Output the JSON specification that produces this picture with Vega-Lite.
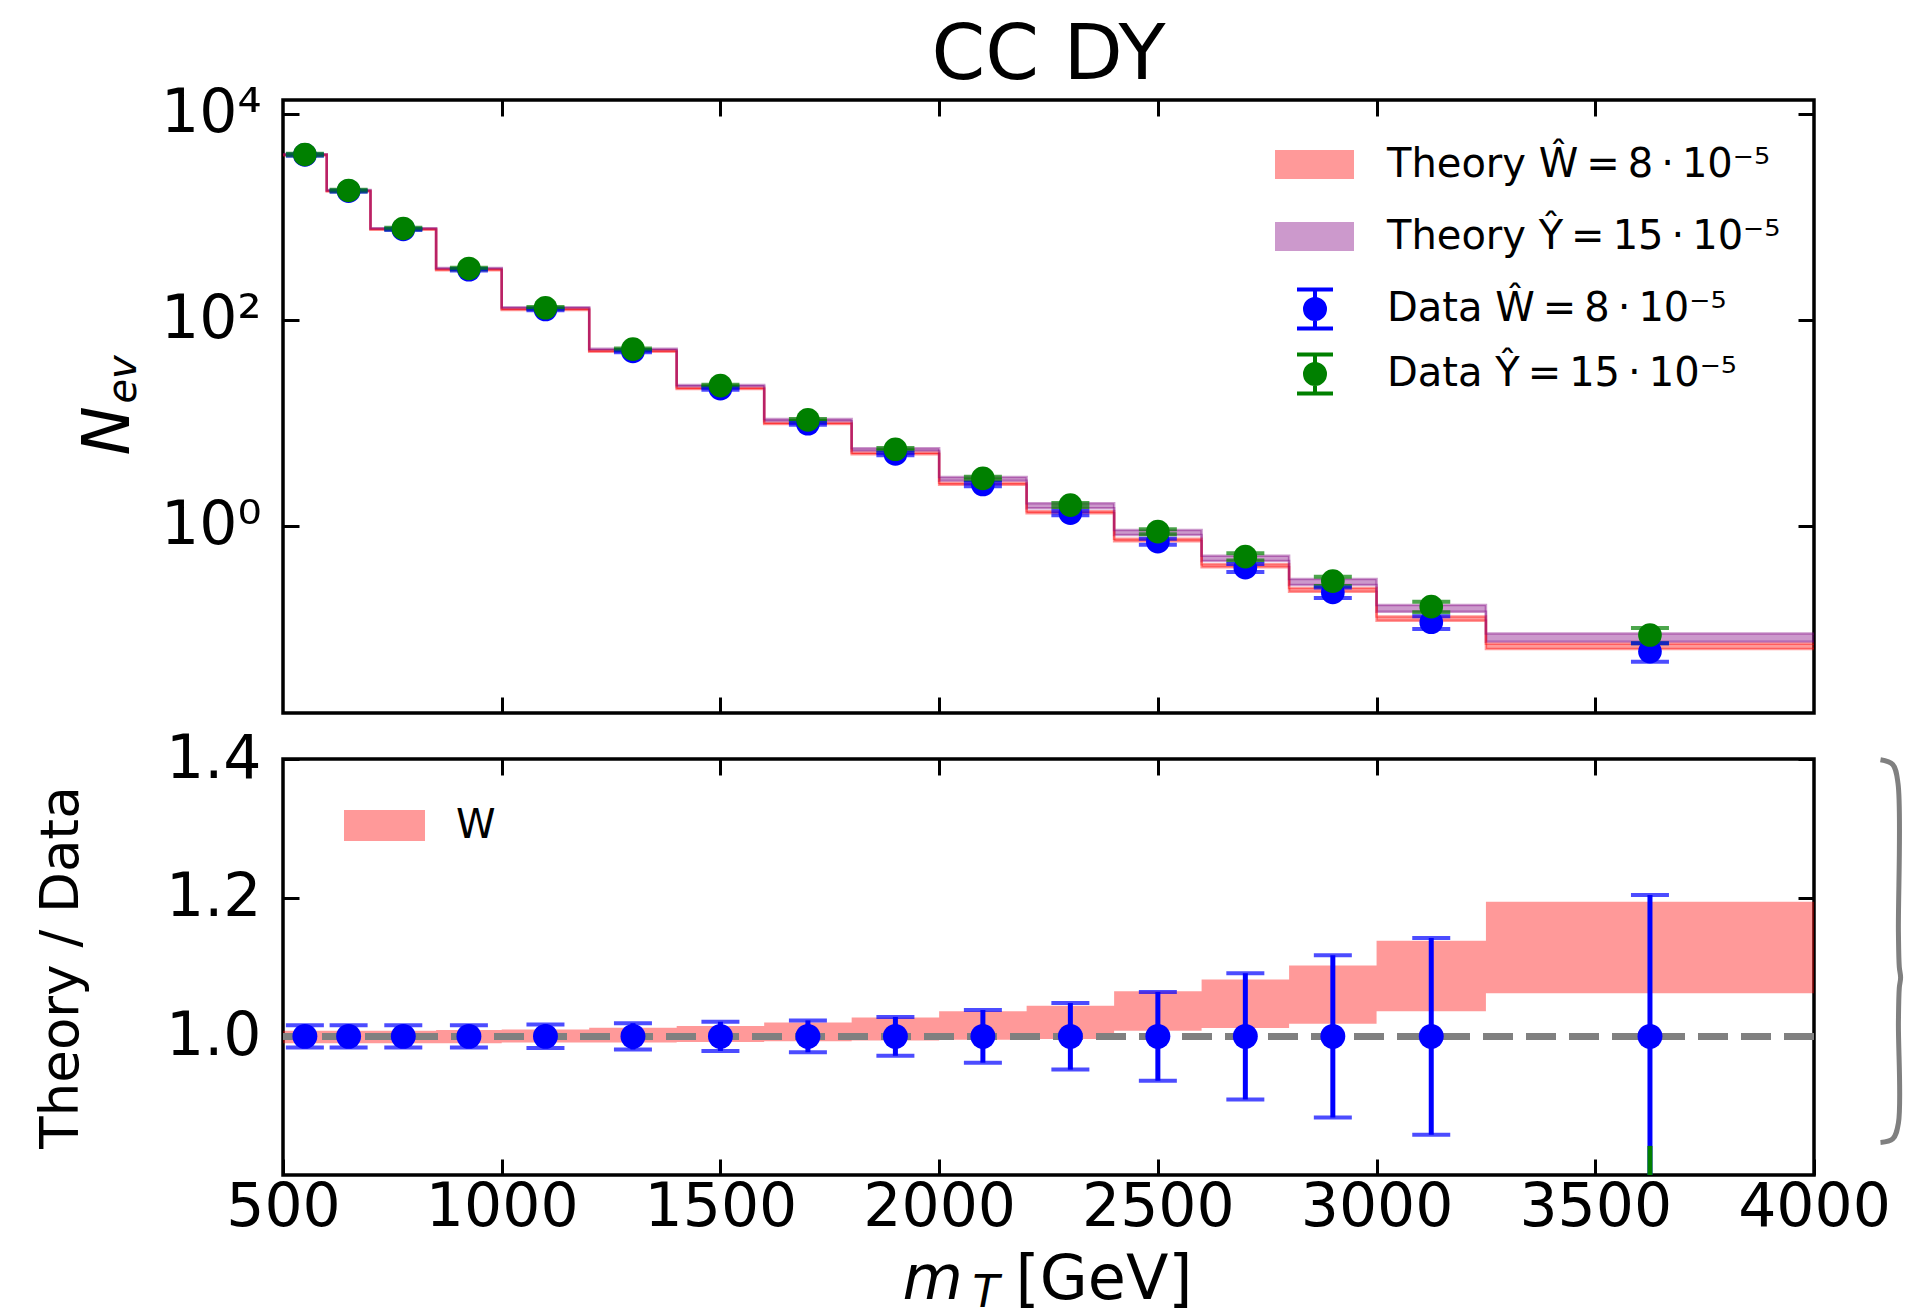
{
  "$schema": "https://vega.github.io/schema/vega-lite/v6.json",
  "background": "white",
  "padding": {"left": 33, "top": 14, "right": 2, "bottom": 0},
  "config": {
    "font": "DejaVu Sans",
    "view": {"stroke": "black", "strokeWidth": 3.5},
    "axis": {
      "domain": false, "grid": false,
      "tickColor": "black", "tickWidth": 3, "tickSize": -16,
      "labelColor": "black", "labelFont": "DejaVu Sans", "labelFontSize": 60,
      "labelFlush": false, "labelOverlap": false,
      "titleColor": "black", "titleFont": "DejaVu Sans", "titleFontWeight": "normal"
    },
    "legend": {"labelFont": "DejaVu Sans", "labelFontSize": 40, "labelColor": "black", "padding": 0, "labelLimit": 0, "title": null}
  },
  "datasets": {
    "theory": [
      {"edge": 500, "model": "Theory Ŵ = 8 · 10⁻⁵", "lo": 3920, "hi": 3992},
      {"edge": 600, "model": "Theory Ŵ = 8 · 10⁻⁵", "lo": 1746, "hi": 1778},
      {"edge": 700, "model": "Theory Ŵ = 8 · 10⁻⁵", "lo": 742.5, "hi": 756},
      {"edge": 850, "model": "Theory Ŵ = 8 · 10⁻⁵", "lo": 301, "hi": 306.7},
      {"edge": 1000, "model": "Theory Ŵ = 8 · 10⁻⁵", "lo": 123.9, "hi": 126.4},
      {"edge": 1200, "model": "Theory Ŵ = 8 · 10⁻⁵", "lo": 48.56, "hi": 49.64},
      {"edge": 1400, "model": "Theory Ŵ = 8 · 10⁻⁵", "lo": 21.13, "hi": 21.62},
      {"edge": 1600, "model": "Theory Ŵ = 8 · 10⁻⁵", "lo": 9.652, "hi": 9.914},
      {"edge": 1800, "model": "Theory Ŵ = 8 · 10⁻⁵", "lo": 4.92, "hi": 5.084},
      {"edge": 2000, "model": "Theory Ŵ = 8 · 10⁻⁵", "lo": 2.488, "hi": 2.59},
      {"edge": 2200, "model": "Theory Ŵ = 8 · 10⁻⁵", "lo": 1.315, "hi": 1.378},
      {"edge": 2400, "model": "Theory Ŵ = 8 · 10⁻⁵", "lo": 0.7026, "hi": 0.7423},
      {"edge": 2600, "model": "Theory Ŵ = 8 · 10⁻⁵", "lo": 0.3937, "hi": 0.4209},
      {"edge": 2800, "model": "Theory Ŵ = 8 · 10⁻⁵", "lo": 0.228, "hi": 0.2468},
      {"edge": 3000, "model": "Theory Ŵ = 8 · 10⁻⁵", "lo": 0.1191, "hi": 0.1309},
      {"edge": 3250, "model": "Theory Ŵ = 8 · 10⁻⁵", "lo": 0.0634, "hi": 0.0713},
      {"edge": 4000, "model": "Theory Ŵ = 8 · 10⁻⁵", "lo": 0.0634, "hi": 0.0713},
      {"edge": 500, "model": "Theory Ŷ = 15 · 10⁻⁵", "lo": 3968, "hi": 4032},
      {"edge": 600, "model": "Theory Ŷ = 15 · 10⁻⁵", "lo": 1776, "hi": 1804},
      {"edge": 700, "model": "Theory Ŷ = 15 · 10⁻⁵", "lo": 758.9, "hi": 771.1},
      {"edge": 850, "model": "Theory Ŷ = 15 · 10⁻⁵", "lo": 310.5, "hi": 315.5},
      {"edge": 1000, "model": "Theory Ŷ = 15 · 10⁻⁵", "lo": 128.7, "hi": 131.3},
      {"edge": 1200, "model": "Theory Ŷ = 15 · 10⁻⁵", "lo": 50.73, "hi": 52.12},
      {"edge": 1400, "model": "Theory Ŷ = 15 · 10⁻⁵", "lo": 22.34, "hi": 23.14},
      {"edge": 1600, "model": "Theory Ŷ = 15 · 10⁻⁵", "lo": 10.28, "hi": 10.81},
      {"edge": 1800, "model": "Theory Ŷ = 15 · 10⁻⁵", "lo": 5.28, "hi": 5.64},
      {"edge": 2000, "model": "Theory Ŷ = 15 · 10⁻⁵", "lo": 2.727, "hi": 2.956},
      {"edge": 2200, "model": "Theory Ŷ = 15 · 10⁻⁵", "lo": 1.469, "hi": 1.643},
      {"edge": 2400, "model": "Theory Ŷ = 15 · 10⁻⁵", "lo": 0.809, "hi": 0.904},
      {"edge": 2600, "model": "Theory Ŷ = 15 · 10⁻⁵", "lo": 0.453, "hi": 0.51},
      {"edge": 2800, "model": "Theory Ŷ = 15 · 10⁻⁵", "lo": 0.264, "hi": 0.302},
      {"edge": 3000, "model": "Theory Ŷ = 15 · 10⁻⁵", "lo": 0.1456, "hi": 0.169},
      {"edge": 3250, "model": "Theory Ŷ = 15 · 10⁻⁵", "lo": 0.0745, "hi": 0.0897},
      {"edge": 4000, "model": "Theory Ŷ = 15 · 10⁻⁵", "lo": 0.0745, "hi": 0.0897}
    ],
    "counts": [
      {"mT": 550, "series": "Data Ŵ = 8 · 10⁻⁵", "n": 3960, "nlo": 3897, "nhi": 4023},
      {"mT": 650, "series": "Data Ŵ = 8 · 10⁻⁵", "n": 1764, "nlo": 1736, "nhi": 1792},
      {"mT": 775, "series": "Data Ŵ = 8 · 10⁻⁵", "n": 750, "nlo": 738, "nhi": 762},
      {"mT": 925, "series": "Data Ŵ = 8 · 10⁻⁵", "n": 304, "nlo": 299.1, "nhi": 308.9},
      {"mT": 1100, "series": "Data Ŵ = 8 · 10⁻⁵", "n": 125, "nlo": 122.9, "nhi": 127.1},
      {"mT": 1300, "series": "Data Ŵ = 8 · 10⁻⁵", "n": 49.0, "nlo": 48.07, "nhi": 49.93},
      {"mT": 1500, "series": "Data Ŵ = 8 · 10⁻⁵", "n": 21.3, "nlo": 20.85, "nhi": 21.75},
      {"mT": 1700, "series": "Data Ŵ = 8 · 10⁻⁵", "n": 9.72, "nlo": 9.5, "nhi": 9.94},
      {"mT": 1900, "series": "Data Ŵ = 8 · 10⁻⁵", "n": 4.95, "nlo": 4.81, "nhi": 5.09},
      {"mT": 2100, "series": "Data Ŵ = 8 · 10⁻⁵", "n": 2.5, "nlo": 2.405, "nhi": 2.595},
      {"mT": 2300, "series": "Data Ŵ = 8 · 10⁻⁵", "n": 1.32, "nlo": 1.257, "nhi": 1.383},
      {"mT": 2500, "series": "Data Ŵ = 8 · 10⁻⁵", "n": 0.697, "nlo": 0.652, "nhi": 0.742},
      {"mT": 2700, "series": "Data Ŵ = 8 · 10⁻⁵", "n": 0.389, "nlo": 0.354, "nhi": 0.424},
      {"mT": 2900, "series": "Data Ŵ = 8 · 10⁻⁵", "n": 0.224, "nlo": 0.198, "nhi": 0.25},
      {"mT": 3125, "series": "Data Ŵ = 8 · 10⁻⁵", "n": 0.115, "nlo": 0.0987, "nhi": 0.1313},
      {"mT": 3625, "series": "Data Ŵ = 8 · 10⁻⁵", "n": 0.0597, "nlo": 0.0475, "nhi": 0.0719},
      {"mT": 550, "series": "Data Ŷ = 15 · 10⁻⁵", "n": 4000, "nlo": 3936, "nhi": 4064},
      {"mT": 650, "series": "Data Ŷ = 15 · 10⁻⁵", "n": 1790, "nlo": 1761, "nhi": 1819},
      {"mT": 775, "series": "Data Ŷ = 15 · 10⁻⁵", "n": 765, "nlo": 752.8, "nhi": 777.2},
      {"mT": 925, "series": "Data Ŷ = 15 · 10⁻⁵", "n": 313, "nlo": 308, "nhi": 318},
      {"mT": 1100, "series": "Data Ŷ = 15 · 10⁻⁵", "n": 130, "nlo": 127.8, "nhi": 132.2},
      {"mT": 1300, "series": "Data Ŷ = 15 · 10⁻⁵", "n": 51.5, "nlo": 50.57, "nhi": 52.43},
      {"mT": 1500, "series": "Data Ŷ = 15 · 10⁻⁵", "n": 22.8, "nlo": 22.34, "nhi": 23.26},
      {"mT": 1700, "series": "Data Ŷ = 15 · 10⁻⁵", "n": 10.6, "nlo": 10.37, "nhi": 10.83},
      {"mT": 1900, "series": "Data Ŷ = 15 · 10⁻⁵", "n": 5.5, "nlo": 5.35, "nhi": 5.65},
      {"mT": 2100, "series": "Data Ŷ = 15 · 10⁻⁵", "n": 2.87, "nlo": 2.77, "nhi": 2.97},
      {"mT": 2300, "series": "Data Ŷ = 15 · 10⁻⁵", "n": 1.58, "nlo": 1.51, "nhi": 1.65},
      {"mT": 2500, "series": "Data Ŷ = 15 · 10⁻⁵", "n": 0.871, "nlo": 0.821, "nhi": 0.921},
      {"mT": 2700, "series": "Data Ŷ = 15 · 10⁻⁵", "n": 0.498, "nlo": 0.458, "nhi": 0.538},
      {"mT": 2900, "series": "Data Ŷ = 15 · 10⁻⁵", "n": 0.289, "nlo": 0.259, "nhi": 0.319},
      {"mT": 3125, "series": "Data Ŷ = 15 · 10⁻⁵", "n": 0.163, "nlo": 0.1436, "nhi": 0.1824},
      {"mT": 3625, "series": "Data Ŷ = 15 · 10⁻⁵", "n": 0.0865, "nlo": 0.0719, "nhi": 0.1011}
    ],
    "ratioBand": [
      {"edge": 500, "band": "W", "lo": 0.99, "hi": 1.008},
      {"edge": 600, "band": "W", "lo": 0.99, "hi": 1.008},
      {"edge": 700, "band": "W", "lo": 0.99, "hi": 1.008},
      {"edge": 850, "band": "W", "lo": 0.99, "hi": 1.009},
      {"edge": 1000, "band": "W", "lo": 0.991, "hi": 1.01},
      {"edge": 1200, "band": "W", "lo": 0.991, "hi": 1.0125},
      {"edge": 1400, "band": "W", "lo": 0.992, "hi": 1.015},
      {"edge": 1600, "band": "W", "lo": 0.993, "hi": 1.02},
      {"edge": 1800, "band": "W", "lo": 0.994, "hi": 1.027},
      {"edge": 2000, "band": "W", "lo": 0.995, "hi": 1.036},
      {"edge": 2200, "band": "W", "lo": 0.996, "hi": 1.044},
      {"edge": 2400, "band": "W", "lo": 1.008, "hi": 1.065},
      {"edge": 2600, "band": "W", "lo": 1.012, "hi": 1.082},
      {"edge": 2800, "band": "W", "lo": 1.018, "hi": 1.102},
      {"edge": 3000, "band": "W", "lo": 1.036, "hi": 1.138},
      {"edge": 3250, "band": "W", "lo": 1.062, "hi": 1.194},
      {"edge": 4000, "band": "W", "lo": 1.062, "hi": 1.194}
    ],
    "ratio": [
      {"mT": 550, "r": 1, "rlo": 0.984, "rhi": 1.016},
      {"mT": 650, "r": 1, "rlo": 0.984, "rhi": 1.016},
      {"mT": 775, "r": 1, "rlo": 0.984, "rhi": 1.016},
      {"mT": 925, "r": 1, "rlo": 0.984, "rhi": 1.016},
      {"mT": 1100, "r": 1, "rlo": 0.983, "rhi": 1.017},
      {"mT": 1300, "r": 1, "rlo": 0.981, "rhi": 1.019},
      {"mT": 1500, "r": 1, "rlo": 0.979, "rhi": 1.021},
      {"mT": 1700, "r": 1, "rlo": 0.977, "rhi": 1.023},
      {"mT": 1900, "r": 1, "rlo": 0.972, "rhi": 1.028},
      {"mT": 2100, "r": 1, "rlo": 0.962, "rhi": 1.038},
      {"mT": 2300, "r": 1, "rlo": 0.952, "rhi": 1.048},
      {"mT": 2500, "r": 1, "rlo": 0.936, "rhi": 1.064},
      {"mT": 2700, "r": 1, "rlo": 0.909, "rhi": 1.091},
      {"mT": 2900, "r": 1, "rlo": 0.883, "rhi": 1.117},
      {"mT": 3125, "r": 1, "rlo": 0.858, "rhi": 1.142},
      {"mT": 3625, "r": 1, "rlo": 0.796, "rhi": 1.204}
    ],
    "ratioY": [
      {"mT": 3625, "rlo": 0.7, "rhi": 0.842}
    ],
    "brace": [
      {"i": 0, "x": 4152, "y": 1.399},
      {"i": 1, "x": 4180, "y": 1.392},
      {"i": 2, "x": 4192, "y": 1.365},
      {"i": 3, "x": 4193, "y": 1.15},
      {"i": 4, "x": 4195, "y": 1.1},
      {"i": 5, "x": 4198, "y": 1.085},
      {"i": 6, "x": 4195, "y": 1.07},
      {"i": 7, "x": 4193, "y": 1.02},
      {"i": 8, "x": 4193, "y": 0.875},
      {"i": 9, "x": 4180, "y": 0.852},
      {"i": 10, "x": 4152, "y": 0.847}
    ]
  },
  "vconcat": [
    {
      "width": 1531,
      "height": 613,
      "title": {"text": "CC DY", "fontSize": 77, "font": "DejaVu Sans", "fontWeight": "normal", "color": "black", "frame": "group", "anchor": "middle", "offset": -11},
      "resolve": {"axis": {"x": "independent", "y": "independent"}},
      "layer": [
        {
          "data": {"name": "theory"},
          "mark": {"type": "area", "interpolate": "step-after", "opacity": 0.4, "clip": true},
          "encoding": {
            "x": {"field": "edge", "type": "quantitative",
                  "scale": {"domain": [500, 4000], "nice": false, "zero": false},
                  "axis": {"orient": "bottom", "values": [1000, 1500, 2000, 2500, 3000, 3500], "labels": false, "title": null}},
            "y": {"field": "lo", "type": "quantitative",
                  "scale": {"type": "log", "domain": [0.01513, 13527], "nice": false},
                  "axis": {"orient": "left", "values": [1, 100, 10000], "labelPadding": 38,
                           "labelExpr": "datum.value >= 5000 ? '10⁴' : datum.value >= 50 ? '10²' : '10⁰'",
                           "title": "N", "titleFontStyle": "italic", "titleFontSize": 66, "titleAngle": 270,
                           "titleAlign": "left", "titleBaseline": "alphabetic", "titleX": -155, "titleY": 355}},
            "y2": {"field": "hi"},
            "color": {"field": "model", "type": "nominal",
                      "scale": {"domain": ["Theory Ŵ = 8 · 10⁻⁵", "Theory Ŷ = 15 · 10⁻⁵"], "range": ["#ff0000", "#800080"]},
                      "legend": {"orient": "none", "legendX": 992, "legendY": 25, "symbolType": "M-1,-0.367H1V0.367H-1Z",
                                 "symbolSize": 6241, "symbolStrokeWidth": 0, "symbolOpacity": 0.4, "labelOffset": 33, "rowPadding": 12,
                                 "labelExpr": "replace(replace(datum.label, ' = ', '\u2009=\u2009'), ' · ', '\u2009·\u2009')"}}
          }
        },
        {
          "data": {"name": "theory"},
          "mark": {"type": "line", "interpolate": "step-after", "opacity": 0.4, "strokeWidth": 2.5, "clip": true},
          "encoding": {
            "x": {"field": "edge", "type": "quantitative", "axis": null},
            "y": {"field": "lo", "type": "quantitative", "axis": null},
            "color": {"field": "model", "type": "nominal"}
          }
        },
        {
          "data": {"name": "theory"},
          "mark": {"type": "line", "interpolate": "step-after", "opacity": 0.4, "strokeWidth": 2.5, "clip": true},
          "encoding": {
            "x": {"field": "edge", "type": "quantitative", "axis": null},
            "y": {"field": "hi", "type": "quantitative", "axis": null},
            "color": {"field": "model", "type": "nominal"}
          }
        },
        {
          "data": {"name": "counts"},
          "mark": {"type": "rule", "strokeWidth": 4, "clip": true},
          "encoding": {
            "x": {"field": "mT", "type": "quantitative",
                  "axis": {"orient": "top", "values": [1000, 1500, 2000, 2500, 3000, 3500], "labels": false, "title": null}},
            "y": {"field": "nlo", "type": "quantitative",
                  "axis": {"orient": "right", "values": [1, 100, 10000], "labels": false, "title": null}},
            "y2": {"field": "nhi"},
            "stroke": {"field": "series", "type": "nominal",
                       "scale": {"domain": ["Data Ŵ = 8 · 10⁻⁵", "Data Ŷ = 15 · 10⁻⁵"], "range": ["#0000ff", "#008000"]},
                       "legend": {"orient": "none", "legendX": 1010, "legendY": 187,
                                  "symbolType": "M-0.9,-0.975H0.9M0,-0.975V0.975M-0.9,0.975H0.9M-0.5,0A0.5,0.5,0,1,1,0.5,0A0.5,0.5,0,1,1,-0.5,0Z",
                                  "symbolSize": 1600, "symbolStrokeWidth": 4, "symbolOpacity": 1, "labelOffset": 50, "rowPadding": 9,
                                  "labelExpr": "replace(replace(datum.label, ' = ', '\u2009=\u2009'), ' · ', '\u2009·\u2009')",
                                  "encode": {"symbols": {"update": {"opacity": {"value": 1}}}}}}
          }
        },
        {
          "data": {"name": "counts"},
          "mark": {"type": "tick", "orient": "horizontal", "size": 38, "thickness": 4, "clip": true},
          "encoding": {
            "x": {"field": "mT", "type": "quantitative", "axis": null},
            "y": {"field": "nlo", "type": "quantitative",
                  "axis": {"orient": "left", "ticks": false, "labels": false,
                           "title": "ev", "titleFontStyle": "italic", "titleFontSize": 40, "titleAngle": 270,
                           "titleAlign": "left", "titleBaseline": "alphabetic", "titleX": -148, "titleY": 303}},
            "fill": {"field": "series", "type": "nominal",
                     "scale": {"domain": ["Data Ŵ = 8 · 10⁻⁵", "Data Ŷ = 15 · 10⁻⁵"], "range": ["#0000ff", "#008000"]},
                     "legend": {"orient": "none", "legendX": 1010, "legendY": 187,
                                "symbolType": "M-0.9,-0.975H0.9M0,-0.975V0.975M-0.9,0.975H0.9M-0.5,0A0.5,0.5,0,1,1,0.5,0A0.5,0.5,0,1,1,-0.5,0Z",
                                "symbolSize": 1600, "symbolStrokeWidth": 4, "symbolOpacity": 1, "labelOffset": 50, "rowPadding": 9,
                                "labelExpr": "replace(replace(datum.label, ' = ', '\u2009=\u2009'), ' · ', '\u2009·\u2009')",
                                "encode": {"symbols": {"update": {"opacity": {"value": 1}}}}}}
          }
        },
        {
          "data": {"name": "counts"},
          "mark": {"type": "tick", "orient": "horizontal", "size": 38, "thickness": 4, "clip": true},
          "encoding": {
            "x": {"field": "mT", "type": "quantitative", "axis": null},
            "y": {"field": "nhi", "type": "quantitative", "axis": null},
            "fill": {"field": "series", "type": "nominal"}
          }
        },
        {
          "data": {"name": "counts"},
          "mark": {"type": "point", "shape": "circle", "filled": true, "size": 560, "opacity": 1, "clip": true},
          "encoding": {
            "x": {"field": "mT", "type": "quantitative", "axis": null},
            "y": {"field": "n", "type": "quantitative", "axis": null},
            "fill": {"field": "series", "type": "nominal"}
          }
        }
      ]
    },
    {
      "width": 1531,
      "height": 416,
      "resolve": {"axis": {"x": "independent", "y": "independent"}},
      "layer": [
        {
          "data": {"name": "ratioBand"},
          "mark": {"type": "area", "interpolate": "step-after", "opacity": 0.4, "clip": true},
          "encoding": {
            "x": {"field": "edge", "type": "quantitative",
                  "scale": {"domain": [500, 4000], "nice": false, "zero": false},
                  "axis": {"orient": "bottom", "values": [500, 1000, 1500, 2000, 2500, 3000, 3500, 4000], "format": "d", "labelPadding": 19,
                           "title": "[GeV]", "titleFontSize": 62, "titleAlign": "left", "titleBaseline": "alphabetic", "titleX": 732, "titleY": 123}},
            "y": {"field": "lo", "type": "quantitative",
                  "scale": {"domain": [0.8, 1.4], "nice": false, "zero": false},
                  "axis": {"orient": "left", "values": [1.0, 1.2, 1.4], "format": ".1f", "labelPadding": 38,
                           "title": "Theory / Data", "titleFontSize": 53, "titleAngle": 270,
                           "titleAlign": "center", "titleBaseline": "alphabetic", "titleX": -206, "titleY": 208}},
            "y2": {"field": "hi"},
            "color": {"field": "band", "type": "nominal",
                      "scale": {"domain": ["W"], "range": ["#ff0000"]},
                      "legend": {"orient": "none", "legendX": 61, "legendY": 26, "symbolType": "M-1,-0.38H1V0.38H-1Z",
                                 "symbolSize": 6561, "symbolStrokeWidth": 0, "symbolOpacity": 0.4, "labelOffset": 31}}
          }
        },
        {
          "data": {"name": "ratio"},
          "mark": {"type": "rule", "color": "#808080", "strokeWidth": 6, "strokeDash": [30, 13]},
          "encoding": {
            "y": {"datum": 1, "type": "quantitative", "axis": null}
          }
        },
        {
          "data": {"name": "ratio"},
          "mark": {"type": "rule", "color": "#0000ff", "strokeWidth": 5, "clip": true},
          "encoding": {
            "x": {"field": "mT", "type": "quantitative",
                  "axis": {"orient": "bottom", "ticks": false, "labels": false,
                           "title": "m", "titleFontStyle": "italic", "titleFontSize": 62,
                           "titleAlign": "left", "titleBaseline": "alphabetic", "titleX": 619, "titleY": 123}},
            "y": {"field": "rlo", "type": "quantitative",
                  "axis": {"orient": "right", "values": [1.0, 1.2, 1.4], "labels": false, "title": null}},
            "y2": {"field": "rhi"}
          }
        },
        {
          "data": {"name": "ratio"},
          "mark": {"type": "tick", "orient": "horizontal", "color": "#0000ff", "size": 38, "thickness": 4, "clip": true},
          "encoding": {
            "x": {"field": "mT", "type": "quantitative",
                  "axis": {"orient": "bottom", "ticks": false, "labels": false,
                           "title": "T", "titleFontStyle": "italic", "titleFontSize": 44,
                           "titleAlign": "left", "titleBaseline": "alphabetic", "titleX": 689, "titleY": 131}},
            "y": {"field": "rlo", "type": "quantitative", "axis": null}
          }
        },
        {
          "data": {"name": "ratio"},
          "mark": {"type": "tick", "orient": "horizontal", "color": "#0000ff", "size": 38, "thickness": 4, "clip": true},
          "encoding": {
            "x": {"field": "mT", "type": "quantitative",
                  "axis": {"orient": "top", "values": [1000, 1500, 2000, 2500, 3000, 3500], "labels": false, "title": null}},
            "y": {"field": "rhi", "type": "quantitative", "axis": null}
          }
        },
        {
          "data": {"name": "ratioY"},
          "mark": {"type": "rule", "color": "#008000", "strokeWidth": 5, "clip": true},
          "encoding": {
            "x": {"field": "mT", "type": "quantitative", "axis": null},
            "y": {"field": "rlo", "type": "quantitative", "axis": null},
            "y2": {"field": "rhi"}
          }
        },
        {
          "data": {"name": "ratio"},
          "mark": {"type": "point", "shape": "circle", "filled": true, "color": "#0000ff", "size": 620, "opacity": 1, "clip": true},
          "encoding": {
            "x": {"field": "mT", "type": "quantitative", "axis": null},
            "y": {"field": "r", "type": "quantitative", "axis": null}
          }
        },
        {
          "data": {"name": "brace"},
          "mark": {"type": "line", "interpolate": "catmull-rom", "color": "#808080", "strokeWidth": 5, "clip": false},
          "encoding": {
            "x": {"field": "x", "type": "quantitative", "axis": null},
            "y": {"field": "y", "type": "quantitative", "axis": null},
            "order": {"field": "i", "type": "quantitative"}
          }
        }
      ]
    }
  ],
  "spacing": 46,
  "bounds": "flush",
  "resolve": {
    "scale": {"color": "independent", "fill": "independent", "stroke": "independent"},
    "legend": {"color": "independent", "fill": "independent", "stroke": "independent"}
  }
}
